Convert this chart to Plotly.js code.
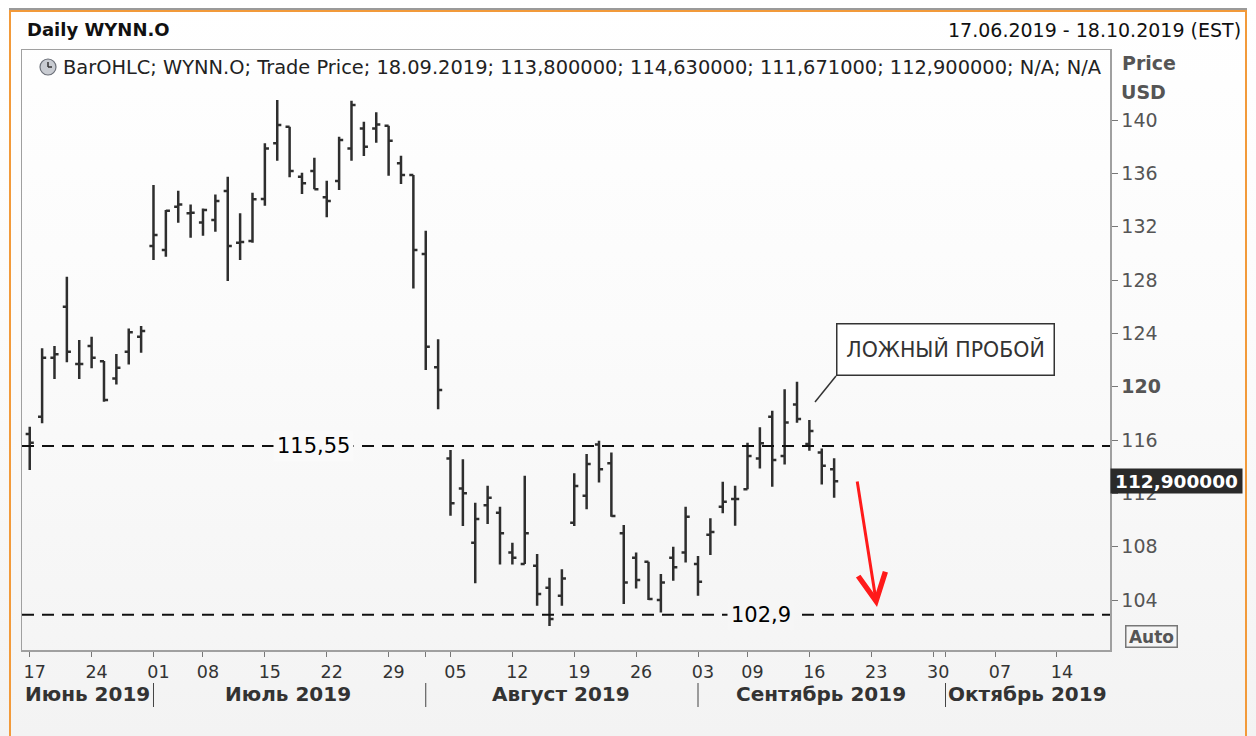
<!DOCTYPE html>
<html>
<head>
<meta charset="utf-8">
<script src="https://cdn.plot.ly/plotly-3.0.1.min.js"></script>
<style>
  html, body { margin: 0; padding: 0; background: #ffffff; }
  #chart { width: 1256px; height: 736px; background: linear-gradient(to bottom, #ffffff 0%, #fbfbfb 45%, #f3f3f3 100%); }
</style>
</head>
<body>
<div id="chart"></div>
<script>
// ---- data ----
const dates = [
  '2019-06-17','2019-06-18','2019-06-19','2019-06-20','2019-06-21',
  '2019-06-24','2019-06-25','2019-06-26','2019-06-27','2019-06-28',
  '2019-07-01','2019-07-02','2019-07-03','2019-07-05',
  '2019-07-08','2019-07-09','2019-07-10','2019-07-11','2019-07-12',
  '2019-07-15','2019-07-16','2019-07-17','2019-07-18','2019-07-19',
  '2019-07-22','2019-07-23','2019-07-24','2019-07-25','2019-07-26',
  '2019-07-29','2019-07-30','2019-07-31','2019-08-01','2019-08-02',
  '2019-08-05','2019-08-06','2019-08-07','2019-08-08','2019-08-09',
  '2019-08-12','2019-08-13','2019-08-14','2019-08-15','2019-08-16',
  '2019-08-19','2019-08-20','2019-08-21','2019-08-22','2019-08-23',
  '2019-08-26','2019-08-27','2019-08-28','2019-08-29','2019-08-30',
  '2019-09-03','2019-09-04','2019-09-05','2019-09-06',
  '2019-09-09','2019-09-10','2019-09-11','2019-09-12','2019-09-13',
  '2019-09-16','2019-09-17','2019-09-18'
];
const openP = [
  116.45,117.75,122.17,126.0,121.7,
  123.05,121.9,120.62,122.62,123.75,
  130.55,130.25,133.5,133.0,
  132.32,132.5,134.67,130.8,130.92,
  134.07,138.25,139.5,135.75,136.17,
  134.2,135.42,137.87,139.37,139.37,
  139.57,136.75,135.87,129.95,121.45,
  114.62,112.37,108.3,111.1,110.55,
  107.57,106.7,106.57,104.92,104.32,
  109.8,111.82,115.67,114.25,109.0,
  107.17,106.87,104.0,107.17,107.57,
  106.7,108.9,111.0,111.57,
  112.3,114.62,117.75,114.8,118.67,
  115.7,115.07,113.8
];
const highP = [
  117.0,122.88,123.05,128.25,123.5,
  123.75,121.92,122.45,124.37,124.55,
  135.13,133.25,134.7,133.67,
  133.37,134.42,135.75,133.0,134.55,
  138.25,141.5,139.5,136.05,137.17,
  135.45,138.75,141.45,139.87,140.58,
  139.57,137.32,135.87,131.7,123.55,
  115.25,114.55,111.3,112.57,111.0,
  108.3,113.32,107.45,105.67,106.3,
  113.5,114.95,115.95,115.07,109.62,
  107.57,106.87,105.95,108.0,111.0,
  107.3,110.13,112.87,112.57,
  115.8,116.95,118.2,119.8,120.37,
  117.5,115.37,114.63
];
const lowP = [
  113.75,117.25,120.57,121.83,120.57,
  121.38,118.87,120.17,121.67,122.55,
  129.5,129.75,132.3,131.17,
  131.32,131.62,127.92,129.5,130.8,
  133.57,136.95,135.7,134.45,134.8,
  132.7,134.75,136.95,137.3,138.3,
  135.82,135.2,127.37,121.25,118.3,
  110.32,109.55,105.25,109.7,106.67,
  106.67,106.7,103.57,102.05,103.57,
  109.55,110.8,112.82,110.25,103.7,
  104.87,104.0,103.07,105.45,106.82,
  104.32,107.37,110.5,109.57,
  112.3,113.87,112.5,114.17,117.3,
  115.2,112.67,111.671
];
const closeP = [
  115.8,122.17,122.43,122.62,121.7,
  122.17,119.0,121.42,124.08,124.17,
  131.37,133.2,133.67,133.05,
  133.25,133.92,130.55,130.85,134.05,
  137.87,139.62,136.17,135.25,134.8,
  133.92,138.5,141.12,138.0,139.67,
  138.45,135.87,130.25,123.0,119.75,
  111.25,112.0,110.07,111.67,109.0,
  107.17,109.0,104.45,102.57,105.62,
  112.55,114.2,113.8,110.3,105.32,
  105.5,104.07,105.32,106.45,110.25,
  105.37,109.1,111.37,111.57,
  114.8,115.75,114.5,117.32,117.57,
  116.67,114.07,112.9
];
const levels = [115.55, 102.9];
const levelLabels = ['115,55', '102,9'];
const lastPrice = 112.9;
const lastPriceLabel = '112,900000';

const xTickVals = ['2019-06-17','2019-06-24','2019-07-01','2019-07-08','2019-07-15','2019-07-22','2019-07-29',
  '2019-08-01','2019-08-05','2019-08-12','2019-08-19','2019-08-26','2019-09-03','2019-09-09','2019-09-16',
  '2019-09-23','2019-09-30','2019-10-01','2019-10-07','2019-10-14'];
const xTickText = ['17','24','01','08','15','22','29','','05','12','19','26','03','09','16','23','30','','07','14'];
const monthStarts = ['2019-07-01','2019-08-01','2019-09-03','2019-10-01'];
const monthLabels = ['Июнь 2019','Июль 2019','Август 2019','Сентябрь 2019','Октябрь 2019'];
const yTickVals = [104,108,112,116,120,124,128,132,136,140];
const yTickText = ['104','108','112','116','<b>120</b>','124','128','132','136','140'];

// ---- layout helpers (pixel -> paper) ----
const W = 1256, H = 736, ML = 22, MR = 146, MT = 50, MB = 86;
const PW = W - ML - MR, PH = H - MT - MB;
const px = x => (x - ML) / PW;
const py = y => (MT + PH - y) / PH;

const FONT = 'DejaVu Sans, Verdana, sans-serif';

const trace = {
  type: 'ohlc',
  x: dates, open: openP, high: highP, low: lowP, close: closeP,
  increasing: { line: { color: '#2e2e2e', width: 2.5 } },
  decreasing: { line: { color: '#2e2e2e', width: 2.5 } },
  tickwidth: 0.33,
  hoverinfo: 'skip',
  showlegend: false
};

const shapes = [];
// outer frame
shapes.push({ type: 'rect', xref: 'paper', yref: 'paper', x0: px(10), x1: px(1246), y0: py(760), y1: py(11),
  line: { color: '#f29a3a', width: 2 }, fillcolor: 'rgba(0,0,0,0)', layer: 'below' });
shapes.push({ type: 'line', xref: 'paper', yref: 'paper', x0: px(9), x1: px(1247), y0: py(9), y1: py(9),
  line: { color: '#9a9a9a', width: 2 } });
// horizontal levels
levels.forEach(v => shapes.push({ type: 'line', xref: 'paper', yref: 'y', x0: 0, x1: 1, y0: v, y1: v,
  line: { color: '#111', width: 2, dash: '12px,8px' } }));
// month separators
monthStarts.forEach(d => shapes.push({ type: 'line', xref: 'x', yref: 'paper', x0: d, x1: d,
  y0: py(707), y1: py(683), line: { color: '#444', width: 1 } }));
// clock icon
shapes.push({ type: 'circle', xref: 'paper', yref: 'paper', x0: px(40), x1: px(56), y0: py(75), y1: py(59),
  fillcolor: '#c9ccd2', line: { color: '#6b6f78', width: 1.2 } });
shapes.push({ type: 'line', xref: 'paper', yref: 'paper', x0: px(48), x1: px(48), y0: py(67), y1: py(62),
  line: { color: '#333', width: 1.5 } });
shapes.push({ type: 'line', xref: 'paper', yref: 'paper', x0: px(48), x1: px(52), y0: py(67), y1: py(67),
  line: { color: '#333', width: 1.5 } });
// callout connector
shapes.push({ type: 'line', xref: 'paper', yref: 'paper', x0: px(815), x1: px(836), y0: py(402), y1: py(376),
  line: { color: '#333', width: 1.5 } });

const annotations = [];
annotations.push({ xref: 'paper', yref: 'paper', x: px(25), y: py(30), xanchor: 'left', yanchor: 'middle',
  text: '<b>Daily WYNN.O</b>', showarrow: false, font: { family: FONT, size: 18, color: '#111' } });
annotations.push({ xref: 'paper', yref: 'paper', x: px(1243), y: py(30), xanchor: 'right', yanchor: 'middle',
  text: '17.06.2019 - 18.10.2019 (EST)', showarrow: false, font: { family: FONT, size: 19, color: '#111' } });
annotations.push({ xref: 'paper', yref: 'paper', x: px(61), y: py(67), xanchor: 'left', yanchor: 'middle',
  text: 'BarOHLC; WYNN.O; Trade Price; 18.09.2019; 113,800000; 114,630000; 111,671000; 112,900000; N/A; N/A',
  showarrow: false, font: { family: FONT, size: 19.4, color: '#222' } });
annotations.push({ xref: 'paper', yref: 'paper', x: px(1120), y: py(63), xanchor: 'left', yanchor: 'middle',
  text: '<b>Price</b>', showarrow: false, font: { family: FONT, size: 19, color: '#555' } });
annotations.push({ xref: 'paper', yref: 'paper', x: px(1119), y: py(92), xanchor: 'left', yanchor: 'middle',
  text: '<b>USD</b>', showarrow: false, font: { family: FONT, size: 19, color: '#555' } });
annotations.push({ xref: 'paper', yref: 'y', x: 1, y: lastPrice, xanchor: 'left', yanchor: 'middle',
  text: '<b>' + lastPriceLabel + '</b>', showarrow: false, bgcolor: '#2a2a2a', width: 129, height: 22, borderpad: 1,
  font: { family: FONT, size: 18.5, color: '#ffffff' } });
annotations.push({ xref: 'paper', yref: 'paper', x: px(1151), y: py(636), xanchor: 'center', yanchor: 'middle',
  text: '<b>Auto</b>', showarrow: false, bordercolor: '#777', borderwidth: 1.5, borderpad: 1, width: 48, height: 18,
  font: { family: FONT, size: 17, color: '#555' } });
// level labels
const levelLabelX = [313, 761];
levels.forEach((v, i) => annotations.push({ xref: 'paper', yref: 'y', x: px(levelLabelX[i]), y: v,
  xanchor: 'center', yanchor: 'middle', text: levelLabels[i], showarrow: false,
  bgcolor: i === 0 ? '#fafafa' : '#f6f6f6', borderpad: 3,
  font: { family: FONT, size: 21, color: '#000' } }));
// callout
annotations.push({ xref: 'paper', yref: 'paper', x: px(836), y: py(376), xanchor: 'left', yanchor: 'bottom',
  text: 'ЛОЖНЫЙ ПРОБОЙ', showarrow: false, bgcolor: '#ffffff', bordercolor: '#333', borderwidth: 1.5,
  borderpad: 1, width: 214, height: 48, font: { family: FONT, size: 20.5, color: '#333' } });
// red arrow
annotations.push({ xref: 'paper', yref: 'paper', x: px(877), y: py(607), ax: -20, ay: -127,
  text: '', showarrow: true, arrowcolor: '#ff1a1a', arrowwidth: 3, arrowhead: 5, arrowsize: 1.8, standoff: 0 });
// month labels centered between separators
const monthCenters = [87, 288, 561, 821, 1027];
monthLabels.forEach((m, i) => annotations.push({ xref: 'paper', yref: 'paper', x: px(monthCenters[i]), y: py(694),
  xanchor: 'center', yanchor: 'middle', text: '<b>' + m + '</b>', showarrow: false,
  font: { family: FONT, size: 20, color: '#333' } }));

const layout = {
  width: W, height: H,
  margin: { l: ML, r: MR, t: MT, b: MB, pad: 0 },
  paper_bgcolor: 'rgba(0,0,0,0)', plot_bgcolor: 'rgba(0,0,0,0)',
  showlegend: false,
  dragmode: false,
  xaxis: {
    type: 'date',
    range: ['2019-06-14 09:00', '2019-10-18 07:00'],
    rangebreaks: [ { bounds: ['sat', 'mon'] }, { values: ['2019-07-04', '2019-09-02'] } ],
    rangeslider: { visible: false },
    tickmode: 'array', tickvals: xTickVals, ticktext: xTickText,
    ticks: 'outside', ticklen: 5, tickcolor: '#777', tickwidth: 1,
    ticklabelshift: 5,
    tickfont: { family: FONT, size: 17.5, color: '#333' },
    showgrid: false, zeroline: false,
    showline: true, mirror: true, linecolor: '#a0a0a0', linewidth: 1.5
  },
  yaxis: {
    side: 'right',
    range: [100.25, 145.25],
    tickmode: 'array', tickvals: yTickVals, ticktext: yTickText,
    ticks: 'outside', ticklen: 6, tickcolor: '#777', tickwidth: 1,
    tickfont: { family: FONT, size: 19, color: '#555' },
    showgrid: false, zeroline: false,
    showline: true, mirror: true, linecolor: '#a0a0a0', linewidth: 1.5
  },
  shapes: shapes,
  annotations: annotations
};

Plotly.newPlot('chart', [trace], layout, { displayModeBar: false, staticPlot: true });
</script>
</body>
</html>
